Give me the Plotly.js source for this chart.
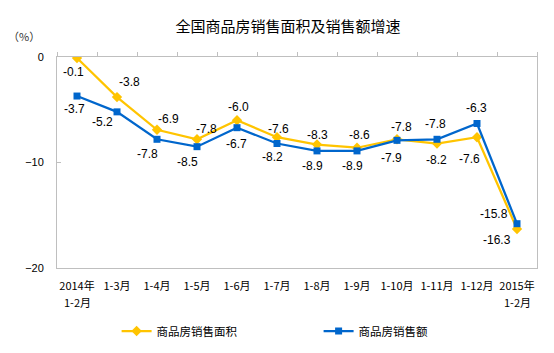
<!DOCTYPE html>
<html>
<head>
<meta charset="utf-8">
<script src="https://cdn.plot.ly/plotly-3.0.1.min.js"></script>
<style>
  html, body { margin: 0; padding: 0; background: #fff; }
  #chart { width: 554px; height: 353px; }
</style>
</head>
<body>
<div id="chart"></div>
<script>
// ---- data ----
var categories = ["2014年<br>1-2月", "1-3月", "1-4月", "1-5月", "1-6月", "1-7月", "1-8月", "1-9月", "1-10月", "1-11月", "1-12月", "2015年<br>1-2月"];
var seriesNames = ["商品房销售面积", "商品房销售额"];
var areaGrowth = [-0.1, -3.8, -6.9, -7.8, -6.0, -7.6, -8.3, -8.6, -7.8, -8.2, -7.6, -16.3];
var salesGrowth = [-3.7, -5.2, -7.8, -8.5, -6.7, -8.2, -8.9, -8.9, -7.9, -7.8, -6.3, -15.8];
var yTicks = [0, -10, -20];

// ---- label placement (pixel offsets, styling only) ----
var areaLabelDx = [-4, 12, 11, 9, 1, 1, 0, 2, 4, -1, -8, -20];
var areaLabelDy = [14, -15, -11, -10, -13, -8, -10, -13, -12, 16, 22, 11];
var salesLabelDx = [-3, -15, -10, -10, -1, -5, -5, -5, -6, -2, -1, -23];
var salesLabelDy = [13, 10, 15, 15, 16, 13, 15, 15, 18, -15, -15, -10];

var yellow = "#FFC400";
var blue = "#0066CC";
var frame = "#BFBFBF";
var cjk = "'Noto Sans CJK SC', 'Noto Sans', sans-serif";
var latin = "'Liberation Sans', Arial, sans-serif";

var idx = categories.map(function (c, i) { return i; });
var firstLines = categories.map(function (c) { return c.split("<br>")[0]; });
var bounds = [];
for (var b = 0; b <= categories.length; b++) { bounds.push(b - 0.5); }

var traces = [
  {
    x: idx, y: areaGrowth, name: seriesNames[0], type: "scatter", mode: "lines+markers",
    line: { color: yellow, width: 2.25 },
    marker: { symbol: "diamond", size: 8, color: yellow },
    hoverinfo: "skip"
  },
  {
    x: idx, y: salesGrowth, name: seriesNames[1], type: "scatter", mode: "lines+markers",
    line: { color: blue, width: 2.25 },
    marker: { symbol: "square", size: 7, color: blue },
    hoverinfo: "skip"
  },
  {
    x: idx, y: idx.map(function () { return null; }), xaxis: "x2", type: "scatter",
    mode: "lines", showlegend: false, hoverinfo: "skip"
  }
];

var annotations = [];
function addLabels(vals, dx, dy) {
  vals.forEach(function (v, i) {
    annotations.push({
      x: i, y: v, xref: "x", yref: "y", text: v.toFixed(1), showarrow: false,
      xshift: dx[i], yshift: -dy[i], xanchor: "center", yanchor: "middle",
      font: { family: latin, size: 12, color: "#000" }
    });
  });
}
addLabels(areaGrowth, areaLabelDx, areaLabelDy);
addLabels(salesGrowth, salesLabelDx, salesLabelDy);

// second lines of the two-line category labels
categories.forEach(function (c, i) {
  var parts = c.split("<br>");
  if (parts.length > 1) {
    annotations.push({
      x: i, y: 0, xref: "x", yref: "paper", text: parts[1], showarrow: false,
      xanchor: "center", yanchor: "middle", yshift: -34,
      font: { family: cjk, size: 11, color: "#000" }
    });
  }
});

annotations.push({
  x: (23.5 - 57) / 480, y: 1.101, xref: "paper", yref: "paper", yanchor: "middle", xanchor: "center",
  text: "（%）", showarrow: false, font: { family: cjk, size: 11, color: "#333" }
});

var layout = {
  width: 554, height: 353,
  margin: { l: 57, r: 17, t: 57, b: 85, pad: 0 },
  paper_bgcolor: "#fff", plot_bgcolor: "#fff",
  showlegend: true,
  title: {
    text: "全国商品房销售面积及销售额增速",
    font: { family: cjk, size: 15, color: "#000" },
    x: 288 / 554, xref: "container", xanchor: "center",
    y: 1 - 26.7 / 353, yref: "container", yanchor: "middle"
  },
  xaxis: {
    range: [-0.5, categories.length - 0.5],
    tickvals: idx, ticktext: firstLines,
    ticks: "", showgrid: false, zeroline: false,
    showline: true, mirror: true, linecolor: frame, linewidth: 1,
    ticklabelstandoff: 8,
    tickfont: { family: cjk, size: 11, color: "#000" },
    fixedrange: true
  },
  xaxis2: {
    overlaying: "x", side: "top", anchor: "y",
    range: [-0.5, categories.length - 0.5],
    tickvals: bounds, ticks: "outside", ticklen: 4, tickcolor: frame, tickwidth: 1,
    showticklabels: false, showgrid: false, zeroline: false, showline: false
  },
  yaxis: {
    range: [-20, 0], tickvals: yTicks,
    ticks: "inside", ticklen: 4, tickcolor: frame, tickwidth: 1,
    showgrid: false, zeroline: false,
    showline: true, mirror: true, linecolor: frame, linewidth: 1,
    ticklabelstandoff: 10,
    tickfont: { family: latin, size: 11, color: "#000" },
    fixedrange: true
  },
  legend: {
    orientation: "h",
    xref: "container", x: 116.6 / 554, xanchor: "left",
    yref: "container", y: 1 - 331 / 353, yanchor: "middle",
    font: { family: cjk, size: 11.5, color: "#000" },
    entrywidth: 157, entrywidthmode: "pixels",
    bgcolor: "rgba(0,0,0,0)", traceorder: "normal"
  },
  annotations: annotations
};

Plotly.newPlot("chart", traces, layout, { staticPlot: true, displayModeBar: false });
</script>
</body>
</html>
